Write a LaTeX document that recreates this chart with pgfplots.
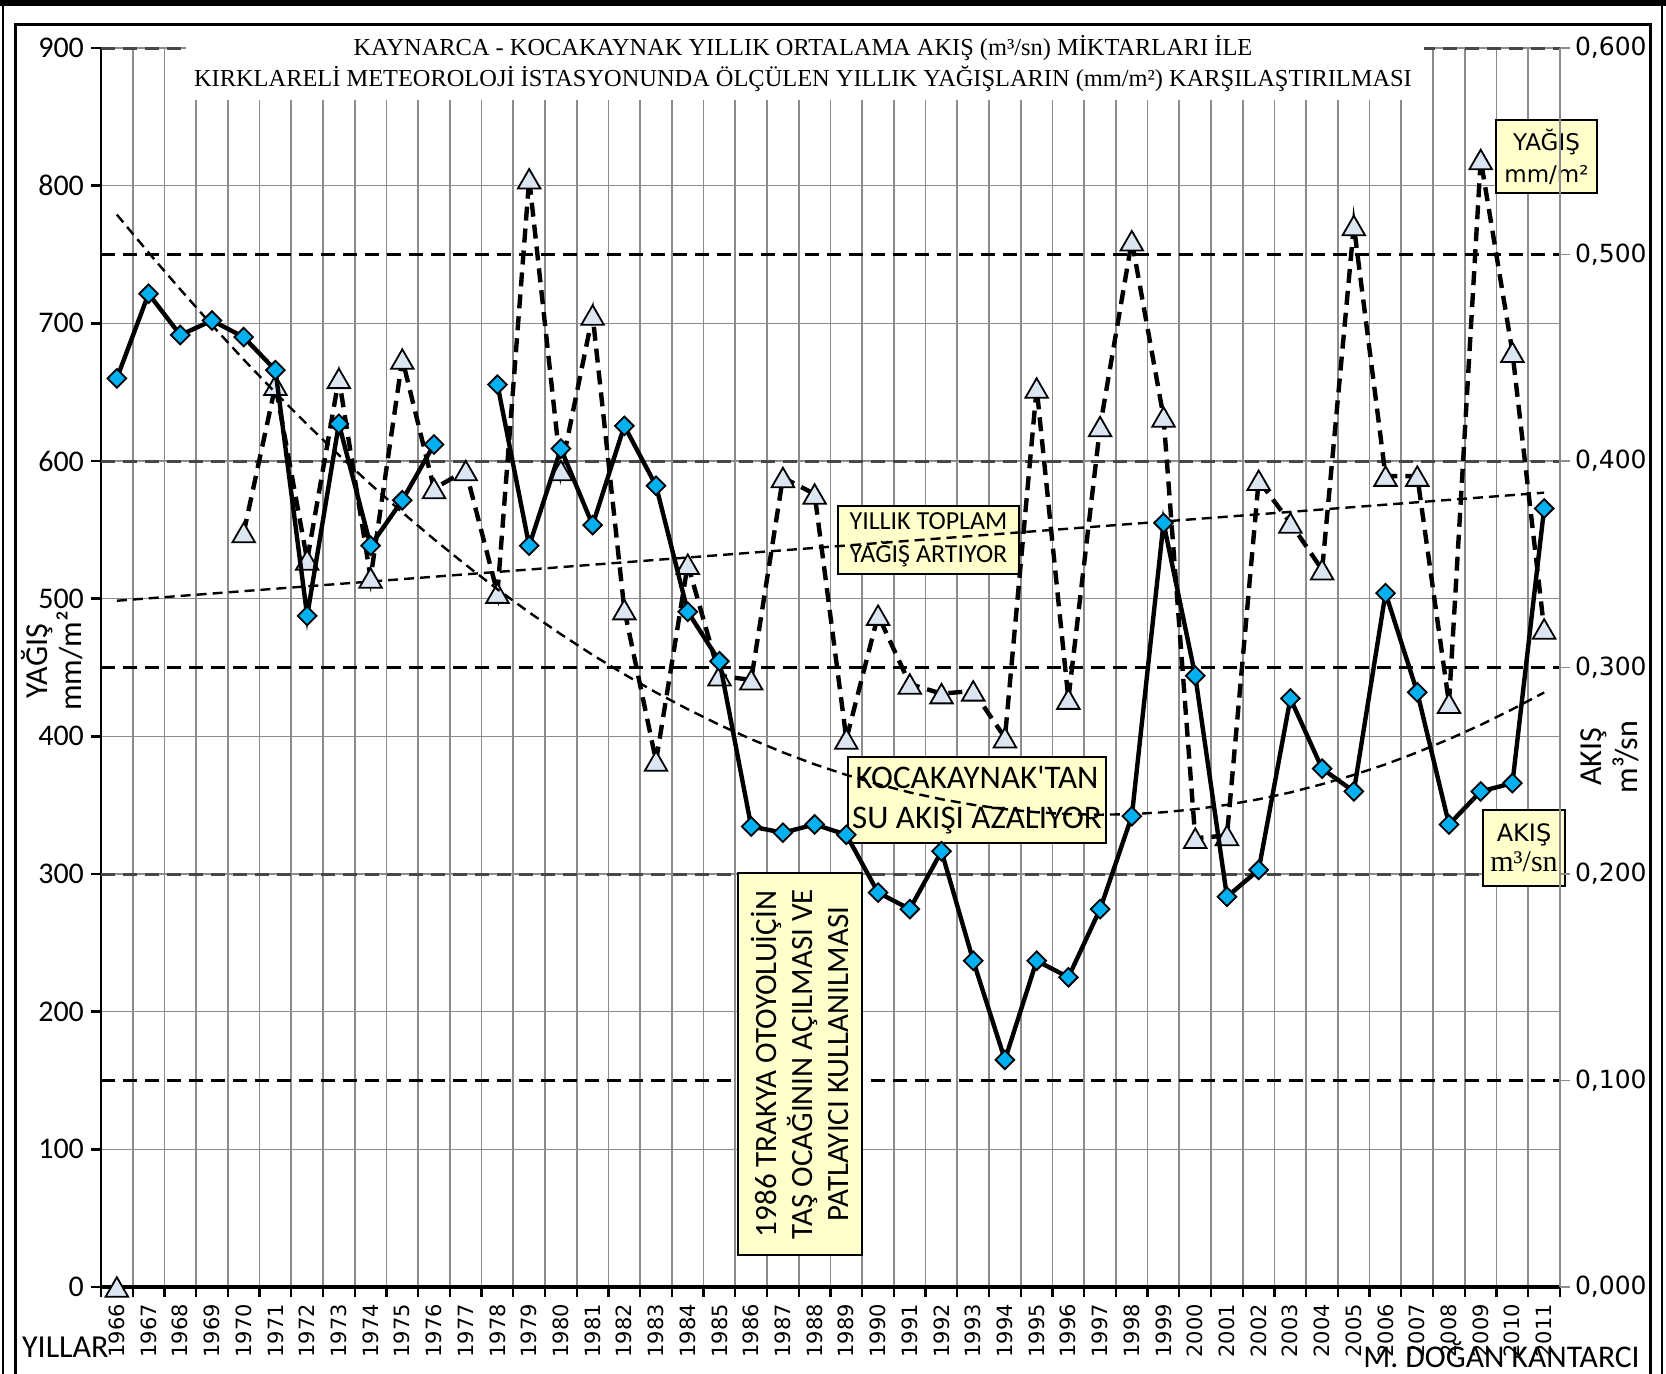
\documentclass[border=0pt]{standalone}
\usepackage{pgfplots}
\pgfplotsset{compat=1.18}
\usepackage{pgfplotstable}
\usepackage{fontspec}
\setmainfont{Carlito}
\newfontfamily\dejavu{DejaVu Sans}
\newfontfamily\serif{Liberation Serif}
\definecolor{akis}{RGB}{0,176,240}
\definecolor{yagis}{RGB}{220,230,242}
\definecolor{notefill}{RGB}{255,255,204}
\definecolor{gridgray}{RGB}{140,140,140}

\pgfplotstableread{
year flow
1966 0.440
1967 0.481
1968 0.461
1969 0.468
1970 0.460
1971 0.444
1972 0.325
1973 0.418
1974 0.359
1975 0.381
1976 0.408
1977 nan
1978 0.437
1979 0.359
1980 0.406
1981 0.369
1982 0.417
1983 0.388
1984 0.327
1985 0.303
1986 0.223
1987 0.220
1988 0.224
1989 0.219
1990 0.191
1991 0.183
1992 0.211
1993 0.158
1994 0.110
1995 0.158
1996 0.150
1997 0.183
1998 0.228
1999 0.370
2000 0.296
2001 0.189
2002 0.202
2003 0.285
2004 0.251
2005 0.240
2006 0.336
2007 0.288
2008 0.224
2009 0.240
2010 0.244
2011 0.377
}\flowtable

\pgfplotstableread{
year rain
1966 0
1967 nan
1968 nan
1969 nan
1970 548
1971 655
1972 528
1973 660
1974 515
1975 674
1976 580
1977 593
1978 504
1979 805
1980 593
1981 706
1982 492
1983 382
1984 525
1985 444
1986 441
1987 588
1988 576
1989 398
1990 488
1991 438
1992 431
1993 433
1994 399
1995 653
1996 427
1997 625
1998 760
1999 632
2000 326
2001 328
2002 586
2003 555
2004 521
2005 771
2006 589
2007 589
2008 424
2009 819
2010 679
2011 478
}\raintable

\pgfplotstableread{
year trend
1966 0.5193
1967 0.5009
1968 0.4831
1969 0.4658
1970 0.4491
1971 0.4331
1972 0.4177
1973 0.4029
1974 0.3887
1975 0.3751
1976 0.3621
1977 0.3497
1978 0.3379
1979 0.3267
1980 0.3161
1981 0.3061
1982 0.2967
1983 0.2879
1984 0.2798
1985 0.2722
1986 0.2653
1987 0.2589
1988 0.2531
1989 0.2480
1990 0.2435
1991 0.2395
1992 0.2362
1993 0.2335
1994 0.2314
1995 0.2299
1996 0.2290
1997 0.2287
1998 0.2290
1999 0.2299
2000 0.2314
2001 0.2335
2002 0.2362
2003 0.2395
2004 0.2435
2005 0.2480
2006 0.2531
2007 0.2589
2008 0.2653
2009 0.2722
2010 0.2798
2011 0.2879
}\flowtrend

\pgfplotsset{
  base/.style={at={(50.5pt,43pt)}, anchor=south west, scale only axis,
    width=729.5pt, height=619.5pt, xmin=1965.5, xmax=2011.5, clip=false,
    /pgf/number format/assume math mode=true},
}

\begin{document}
\begin{tikzpicture}
\path[use as bounding box] (0,0) rectangle (833pt,686.5pt);
% frames
\fill[black] (0pt,683.5pt) rectangle (833pt,686.5pt);
\draw[line width=1pt] (1.5pt,-5pt) -- (1.5pt,684pt);
\draw[line width=1.3pt] (831pt,-5pt) -- (831pt,684pt);
\draw[line width=1.5pt] (7.5pt,-5pt) -- (7.5pt,674pt) -- (825pt,674pt) -- (825pt,-5pt);

% Axis A: grid, left axis, year labels
\begin{axis}[base, ymin=0, ymax=900,
  axis x line*=bottom, axis y line*=left,
  x axis line style={line width=2pt, -},
  y axis line style={line width=1.3pt, -},
  xtick={1966,...,2011},
  xticklabel style={rotate=90, anchor=east, font=\dejavu\fontsize{10.5}{11}\selectfont, /pgf/number format/1000 sep={}},
  major x tick style={draw=none},
  minor xtick={1965.5,1966.5,...,2011.5},
  minor x tick style={black, line width=1.2pt},
  minor tick length=5pt,
  xminorgrids,
  minor x grid style={gridgray, line width=0.8pt},
  ytick={0,100,...,900},
  ymajorgrids,
  major y grid style={gridgray, line width=0.8pt},
  y tick style={black, line width=1.2pt},
  major tick length=5pt,
  tick align=outside,
  yticklabel style={font=\fontsize{15}{15}\selectfont},
]
\draw[black, line width=1.5pt, dash pattern=on 7pt off 4pt] (axis cs:1965.5,150) -- (axis cs:2011.5,150);
\draw[black, line width=1.5pt, dash pattern=on 7pt off 4pt] (axis cs:1965.5,450) -- (axis cs:2011.5,450);
\draw[black, line width=1.5pt, dash pattern=on 7pt off 4pt] (axis cs:1965.5,750) -- (axis cs:2011.5,750);
\draw[black!72, line width=1.5pt, dash pattern=on 7pt off 4pt] (axis cs:1965.5,300) -- (axis cs:2011.5,300);
\draw[black!72, line width=1.5pt, dash pattern=on 7pt off 4pt] (axis cs:1965.5,600) -- (axis cs:2011.5,600);
\draw[black!72, line width=1.5pt, dash pattern=on 7pt off 4pt] (axis cs:1965.5,900) -- (axis cs:2011.5,900);
\end{axis}

% title
\fill[white] (93pt,636.5pt) rectangle (712pt,672pt);
\node[font=\serif\fontsize{12.2}{12}\selectfont] at (401.5pt,662.6pt) {KAYNARCA - KOCAKAYNAK YILLIK ORTALAMA AKIŞ (m³/sn) MİKTARLARI İLE};
\node[font=\serif\fontsize{12.2}{12}\selectfont] at (401.5pt,647.2pt) {KIRKLARELİ METEOROLOJİ İSTASYONUNDA ÖLÇÜLEN YILLIK YAĞIŞLARIN (mm/m²) KARŞILAŞTIRILMASI};

% axis titles
\node[rotate=90, align=center, font=\fontsize{16}{17}\selectfont] at (26pt,356pt) {YAĞIŞ\\mm/m²};
\node[rotate=90, align=center, font=\fontsize{16}{18}\selectfont] at (805pt,308pt) {AKIŞ\\m³/sn};
\node[anchor=east, font=\fontsize{16}{16}\selectfont, inner sep=0pt] at (54.5pt,13pt) {YILLAR};
\node[anchor=east, font=\fontsize{15.8}{16}\selectfont, inner sep=0pt] at (820pt,9pt) {M. DOĞAN KANTARCI};

% note boxes
\node[draw=black, line width=0.8pt, fill=notefill, minimum width=50.5pt, minimum height=36.5pt, inner sep=0pt, align=center, font=\dejavu\fontsize{11.5}{16}\selectfont] at (773.25pt,608.25pt) {YAĞIŞ\\mm/m²};
\node[draw=black, line width=0.8pt, fill=notefill, minimum width=90.5pt, minimum height=34pt, inner sep=0pt, align=center, font=\fontsize{13}{16.5}\selectfont] at (464.25pt,416.5pt) {YILLIK TOPLAM\\YAĞIŞ ARTIYOR};
\node[draw=black, line width=0.8pt, fill=notefill, minimum width=129pt, minimum height=43pt, inner sep=0pt, align=center, font=\fontsize{16.5}{20}\selectfont] at (488.5pt,286.5pt) {KOCAKAYNAK\textquotesingle TAN\\SU AKIŞI AZALIYOR};
\node[rotate=90, draw=black, line width=0.8pt, fill=notefill, minimum width=191pt, minimum height=62pt, inner sep=0pt, align=center, font=\fontsize{15.5}{18}\selectfont] at (400pt,154.5pt) {1986 TRAKYA OTOYOLUİÇİN\\TAŞ OCAĞININ AÇILMASI VE\\PATLAYICI KULLANILMASI};
\node[draw=black, line width=0.8pt, fill=notefill, minimum width=41pt, minimum height=38pt, inner sep=0pt, align=center] at (762pt,262.5pt) {{\dejavu\fontsize{12}{14}\selectfont AKIŞ}\\[2pt]{\serif\fontsize{15}{15}\selectfont m³/sn}};

% Axis B: precipitation
\begin{axis}[base, ymin=0, ymax=900, hide axis, unbounded coords=jump]
\addplot[black, line width=1.2pt, dash pattern=on 5pt off 3pt] coordinates {(1966,498.5) (2011,577)};
\addplot[black, line width=2.2pt, dash pattern=on 7pt off 4pt, mark=triangle*, mark size=6.5pt,
  mark options={solid, fill=yagis, draw=black, line width=0.9pt, yshift=-1.6pt}]
  table[x=year, y=rain] {\raintable};
\end{axis}

% Axis C: flow, right axis
\begin{axis}[base, ymin=0, ymax=0.6, axis x line=none, axis y line*=right,
  xtick=\empty,
  y axis line style={gridgray, line width=0.8pt, -},
  ytick={0,0.1,0.2,0.3,0.4,0.5,0.6},
  y tick style={gridgray, line width=0.8pt},
  major tick length=5pt, tick align=outside,
  yticklabel style={font=\dejavu\fontsize{12.5}{12}\selectfont, xshift=-1pt, /pgf/number format/.cd, fixed, fixed zerofill, precision=3, use comma},
  unbounded coords=jump]
\addplot[black, line width=1.2pt, dash pattern=on 5pt off 3pt] table[x=year, y=trend] {\flowtrend};
\addplot[black, line width=2.2pt, mark=square*, mark size=3.3pt,
  mark options={rotate=45, fill=akis, draw=black, line width=0.9pt}]
  table[x=year, y=flow] {\flowtable};
\end{axis}
\end{tikzpicture}
\end{document}
